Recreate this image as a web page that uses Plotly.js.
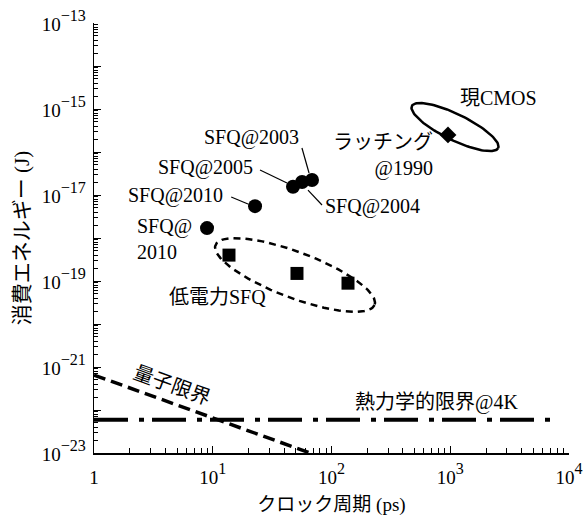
<!DOCTYPE html>
<html>
<head>
<meta charset="utf-8">
<script src="https://cdn.plot.ly/plotly-3.0.1.min.js"></script>
<style>html,body{margin:0;padding:0;background:#fff;}#chart{width:584px;height:517px;}</style>
</head>
<body>
<div id="chart"></div>
<script>
// ---- data (clock period in ps, energy in J) ----
const sfqX = [8.95, 22.7, 47.4, 56.5, 68.5];
const sfqY = [1.7e-18, 5.5e-18, 1.55e-17, 2.0e-17, 2.24e-17];
const lowPowerX = [13.7, 51.2, 137.7];
const lowPowerY = [4.0e-19, 1.5e-19, 8.9e-20];
const cmosX = [957];
const cmosY = [2.5e-16];
const quantumX = [1, 66];
const quantumY = [6.5e-22, 1.0e-23];
const thermalX = [1, 8000];
const thermalY = [5.9e-23, 5.9e-23];

// tick labels
const SUP = s => '<span style="font-size:19px">10</span><sup>' + s + '</sup>';
const xTickVals = [1, 10, 100, 1000, 10000];
const xTickText = ['<span style="font-size:19px">1</span>', SUP('1'), SUP('2'), SUP('3'), SUP('4')];
const yDecades = [-23, -22, -21, -20, -19, -18, -17, -16, -15, -14, -13];
const yTickText = yDecades.map(p => (p % 2 !== 0) ? SUP('\u2212' + Math.abs(p)) : '');

// leader lines for labels [x1, y1, x2, y2]
const leaders = [
  [56.4, 1.24e-16, 64.7, 3.25e-17],   // SFQ@2003
  [25.0, 3.8e-17, 42.2, 1.9e-17],     // SFQ@2005
  [14.3, 9.0e-18, 19.8, 6.2e-18],     // SFQ@2010
  [63.4, 1.3e-17, 83.2, 5.85e-18]     // SFQ@2004
];

// label texts and positions (data values)
const labels = [
  {t: 'SFQ@2003', x: 21.4, y: 2.12e-16, xa: 'center'},
  {t: 'SFQ@2005', x: 8.77, y: 4.48e-17, xa: 'center'},
  {t: 'SFQ@2010', x: 4.9, y: 9.5e-18, xa: 'center'},
  {t: 'SFQ@<br>2010', x: 2.21, y: 9.5e-19, xa: 'left'},
  {t: 'SFQ@2004', x: 84.7, y: 5.5e-18, xa: 'left'},
  {t: 'ラッチング<br>@1990', x: 745, y: 8.5e-17, xa: 'right'},
  {t: '現CMOS', x: 1160, y: 1.8e-15, xa: 'left'},
  {t: '低電力SFQ', x: 10.9, y: 4.25e-20, xa: 'center'},
  {t: '熱力学的限界@4K', x: 773, y: 1.53e-22, xa: 'center'}
];

// enclosing ellipses: center (data), semi-axes & tilt in screen px
const ellipses = [
  {cx: 49.3, cy: 1.38e-19, a: 85, b: 23, ang: 20.6, dash: '7px,5px', w: 2.5},
  {cx: 1096, cy: 3.8e-16, a: 48, b: 13, ang: 26, dash: 'solid', w: 2.5}
];
const pxPerDecX = 118.75, pxPerDecY = 43;

const FONT = '"Liberation Serif", "Times New Roman", "Noto Sans CJK JP", serif';

const traces = [];
traces.push({x: thermalX, y: thermalY, mode: 'lines', line: {color: '#000', width: 4, dash: '34px,11px,5px,8px'}, hoverinfo: 'skip'});
traces.push({x: quantumX, y: quantumY, mode: 'lines', line: {color: '#000', width: 3.5, dash: '12px,6px'}, hoverinfo: 'skip'});

ellipses.forEach(e => {
  const xs = [], ys = [];
  const th = e.ang * Math.PI / 180;
  for (let i = 0; i <= 120; i++) {
    const t = 2 * Math.PI * i / 120;
    const dx = e.a * Math.cos(t) * Math.cos(th) - e.b * Math.sin(t) * Math.sin(th);
    const dy = e.a * Math.cos(t) * Math.sin(th) + e.b * Math.sin(t) * Math.cos(th);
    xs.push(Math.pow(10, Math.log10(e.cx) + dx / pxPerDecX));
    ys.push(Math.pow(10, Math.log10(e.cy) - dy / pxPerDecY));
  }
  traces.push({x: xs, y: ys, mode: 'lines', line: {color: '#000', width: e.w, dash: e.dash}, hoverinfo: 'skip'});
});

leaders.forEach(l => {
  traces.push({x: [l[0], l[2]], y: [l[1], l[3]], mode: 'lines', line: {color: '#000', width: 1.2}, hoverinfo: 'skip'});
});

traces.push({x: sfqX, y: sfqY, mode: 'markers', marker: {symbol: 'circle', size: 14, color: '#000'}});
traces.push({x: lowPowerX, y: lowPowerY, mode: 'markers', marker: {symbol: 'square', size: 13, color: '#000'}});
traces.push({x: cmosX, y: cmosY, mode: 'markers', marker: {symbol: 'diamond', size: 13, color: '#000'}});

const annotations = labels.map(l => ({
  text: l.t, x: Math.log10(l.x), y: Math.log10(l.y), xref: 'x', yref: 'y',
  showarrow: false, xanchor: l.xa, yanchor: 'middle', align: l.xa === 'right' ? 'right' : 'left',
  font: {family: FONT, size: 20, color: '#000'}
}));
annotations.push({
  text: '量子限界', x: Math.log10(4.54), y: -21.42, xref: 'x', yref: 'y', showarrow: false,
  textangle: 20, font: {family: FONT, size: 20, color: '#000'}
});

const minorX = [];
for (let p = 0; p < 4; p++) for (let k = 2; k <= 9; k++) minorX.push(k * Math.pow(10, p));
const minorY = [];
for (let p = -23; p < -13; p++) for (let k = 2; k <= 9; k++) minorY.push(k * Math.pow(10, p));

const layout = {
  width: 584, height: 517,
  margin: {l: 94, r: 15, t: 23, b: 64},
  paper_bgcolor: '#fff', plot_bgcolor: '#fff',
  showlegend: false,
  font: {family: FONT, color: '#000'},
  xaxis: {
    type: 'log', range: [0, 4],
    showgrid: false, zeroline: false, showline: true, linecolor: '#000', linewidth: 1.5, mirror: false,
    ticks: 'inside', ticklen: 7, tickwidth: 1, tickcolor: '#000',
    tickmode: 'array', tickvals: xTickVals, ticktext: xTickText,
    tickfont: {family: FONT, size: 23, color: '#000'},
    ticklabelstandoff: 2,
    minor: {tickmode: 'array', tickvals: minorX, ticks: 'inside', ticklen: 5, tickwidth: 1, tickcolor: '#000', showgrid: false},
    title: {text: 'クロック周期 (ps)', font: {family: FONT, size: 19, color: '#000'}, standoff: 10}
  },
  yaxis: {
    type: 'log', range: [-23, -13],
    showgrid: false, zeroline: false, showline: true, linecolor: '#000', linewidth: 1.5, mirror: false,
    ticks: 'inside', ticklen: 7, tickwidth: 1, tickcolor: '#000',
    tickmode: 'array', tickvals: yDecades.map(p => Math.pow(10, p)), ticktext: yTickText,
    tickfont: {family: FONT, size: 23, color: '#000'},
    ticklabelstandoff: 2,
    minor: {tickmode: 'array', tickvals: minorY, ticks: 'inside', ticklen: 4, tickwidth: 1, tickcolor: '#000', showgrid: false},
    title: {text: '消費エネルギー (J)', font: {family: FONT, size: 21, color: '#000'}, standoff: 6}
  },
  annotations: annotations
};

Plotly.newPlot('chart', traces, layout, {staticPlot: true, displayModeBar: false});
</script>
</body>
</html>
